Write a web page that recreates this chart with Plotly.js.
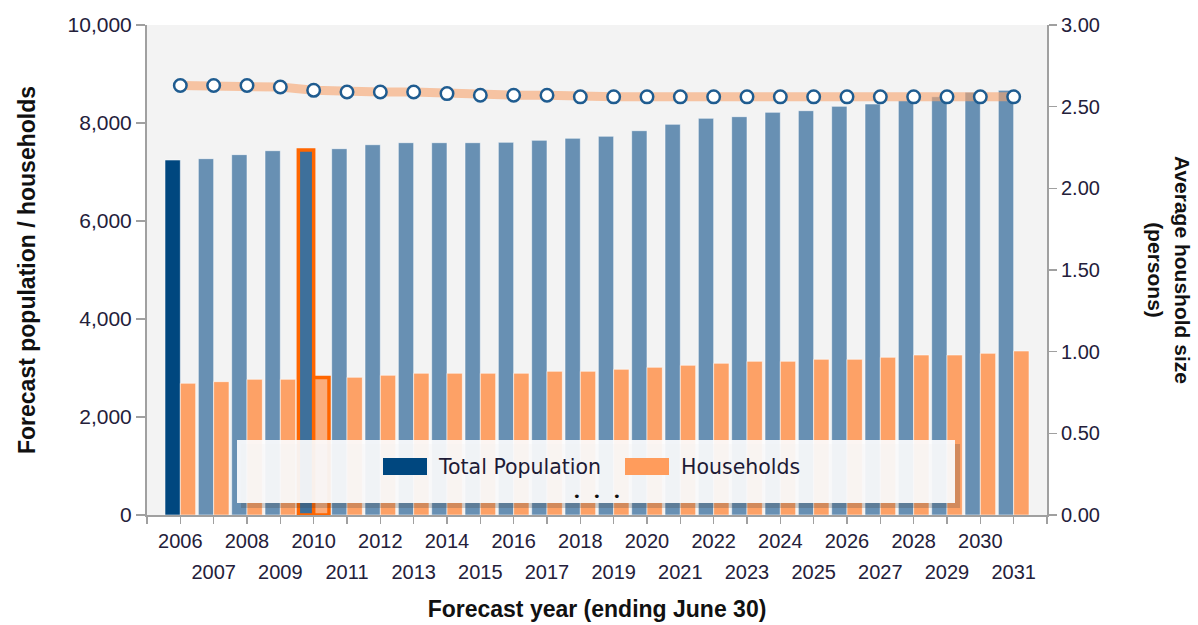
<!DOCTYPE html>
<html>
<head>
<meta charset="utf-8">
<script src="https://cdn.plot.ly/plotly-3.0.1.min.js"></script>
<style>
  html, body { margin: 0; padding: 0; background: #ffffff; }
  #chart { width: 1198px; height: 625px; }
</style>
</head>
<body>
<div id="chart"></div>
<script>
// Forecast years (ending June 30)
const years = [2006, 2007, 2008, 2009, 2010, 2011, 2012, 2013, 2014, 2015, 2016, 2017, 2018,
               2019, 2020, 2021, 2022, 2023, 2024, 2025, 2026, 2027, 2028, 2029, 2030, 2031];

// Total forecast population
const totalPopulation = [7245, 7272, 7354, 7435, 7450, 7476, 7557, 7598, 7598, 7598, 7606, 7647, 7688,
                         7729, 7843, 7973, 8096, 8129, 8218, 8251, 8340, 8388, 8455, 8537, 8626, 8667];

// Forecast number of households
const households = [2688, 2721, 2769, 2769, 2806, 2810, 2851, 2892, 2892, 2892, 2892, 2932, 2932,
                    2973, 3014, 3055, 3096, 3136, 3136, 3177, 3177, 3218, 3265, 3265, 3299, 3347];

// Average household size (persons)
const avgHouseholdSize = [2.63, 2.63, 2.63, 2.62, 2.60, 2.59, 2.59, 2.59, 2.58, 2.57, 2.57, 2.57, 2.56,
                          2.56, 2.56, 2.56, 2.56, 2.56, 2.56, 2.56, 2.56, 2.56, 2.56, 2.56, 2.56, 2.56];

const seriesNames = ['Total Population', 'Households'];

// Highlighted years: the first year is shown selected, 2010 hovered
const selectedYear = 2006;
const hoverYear = 2010;

const popFill = years.map(y => y === selectedYear ? '#00477f' : (y === hoverYear ? '#3e709b' : '#6890b3'));
const hhFill = years.map(y => y === hoverYear ? '#fbad7c' : '#fda166');
const outlineColor = years.map(y => y === hoverYear ? '#ff6600' : 'rgba(255,255,255,0.55)');
const outlineWidth = years.map(y => y === hoverYear ? 3.5 : 1);

const baseFamily = 'Liberation Sans, Arial, sans-serif';
const xTickFont = { family: baseFamily, size: 20, color: '#24203a' };
const leftTickFont = { family: baseFamily, size: 21, color: '#24203a' };
const rightTickFont = { family: baseFamily, size: 20, color: '#24203a' };
const titleFont = { family: baseFamily, size: 23, color: '#111111', weight: 'bold' };
const rightTitleFont = { family: baseFamily, size: 21, color: '#111111', weight: 'bold' };
const legendFont = { family: 'DejaVu Sans, Verdana, sans-serif', size: 20.5, color: '#1e1b36' };

// plot-area pixel -> paper fraction helpers (plot area is 900 x 490 px)
const L = 147, T = 25, W = 900, H = 490;
const px = x => (x - L) / W;
const py = y => (T + H - y) / H;

const evenYears = years.filter(y => y % 2 === 0);
const oddYears = years.filter(y => y % 2 === 1);
const tickPositions = [years[0] - 1].concat(years, [years[years.length - 1] + 1]);

const traces = [
  {
    type: 'bar', name: seriesNames[0], x: years, y: totalPopulation,
    marker: { color: popFill, line: { color: outlineColor, width: outlineWidth } },
    cliponaxis: false, showlegend: false, hoverinfo: 'x+y'
  },
  {
    type: 'bar', name: seriesNames[1], x: years, y: households,
    marker: { color: hhFill, line: { color: outlineColor, width: outlineWidth } },
    cliponaxis: false, showlegend: false, hoverinfo: 'x+y'
  },
  {
    type: 'scatter', mode: 'lines+markers', name: 'Average household size',
    x: years, y: avgHouseholdSize, yaxis: 'y2',
    line: { color: 'rgba(247,165,112,0.62)', width: 9 },
    marker: { symbol: 'circle', size: 12.5, color: '#ffffff', line: { color: '#1f5c90', width: 2.5 } },
    showlegend: false, cliponaxis: false
  },
  {
    // carrier for the second row of year labels
    type: 'scatter', x: [], y: [], xaxis: 'x3', yaxis: 'y', showlegend: false, hoverinfo: 'skip'
  }
];

const legendY = 467;
const annotations = [
  {
    text: 'Average houshold size<br>(persons)', textangle: 90,
    xref: 'paper', yref: 'paper', x: px(1169), y: py(270),
    xanchor: 'center', yanchor: 'middle', showarrow: false,
    font: rightTitleFont
  },
  {
    text: seriesNames[0], xref: 'paper', yref: 'paper', x: px(436), y: py(legendY),
    xanchor: 'left', yanchor: 'middle', showarrow: false, font: legendFont
  },
  {
    text: seriesNames[1], xref: 'paper', yref: 'paper', x: px(679), y: py(legendY),
    xanchor: 'left', yanchor: 'middle', showarrow: false, font: legendFont
  }
].concat([577, 597, 617].map(x => ({
  text: '•', xref: 'paper', yref: 'paper', x: px(x), y: py(496),
  xanchor: 'center', yanchor: 'middle', showarrow: false,
  font: { family: 'DejaVu Sans, sans-serif', size: 13, color: '#111111' }
})));

const shapes = [
  // legend panel shadow and panel
  { type: 'rect', xref: 'paper', yref: 'paper', layer: 'above',
    x0: px(241), x1: px(960), y0: py(508), y1: py(444),
    fillcolor: 'rgba(60,60,60,0.22)', line: { width: 0 } },
  { type: 'rect', xref: 'paper', yref: 'paper', layer: 'above',
    x0: px(237), x1: px(955), y0: py(503), y1: py(440),
    fillcolor: 'rgba(252,252,253,0.93)', line: { width: 0 } },
  // legend swatches
  { type: 'rect', xref: 'paper', yref: 'paper', layer: 'above',
    x0: px(383), x1: px(427), y0: py(475), y1: py(458),
    fillcolor: '#00477f', line: { width: 0 } },
  { type: 'rect', xref: 'paper', yref: 'paper', layer: 'above',
    x0: px(625), x1: px(669), y0: py(475), y1: py(458),
    fillcolor: '#ff9c5c', line: { width: 0 } }
];

const layout = {
  width: 1198, height: 625,
  margin: { l: L, r: 1198 - L - W, t: T, b: 625 - T - H, pad: 0 },
  paper_bgcolor: '#ffffff',
  plot_bgcolor: '#f3f3f3',
  barmode: 'group', bargap: 0.08, bargroupgap: 0,
  showlegend: false,
  font: xTickFont,
  xaxis: {
    range: [years[0] - 1, years[years.length - 1] + 1],
    tickmode: 'array', tickvals: tickPositions,
    ticktext: tickPositions.map(y => evenYears.includes(y) ? String(y) : ''),
    ticks: 'outside', ticklen: 7, tickwidth: 1.5, tickcolor: '#a0a0a0',
    showline: true, linecolor: '#a0a0a0', linewidth: 2,
    showgrid: false, zeroline: false, tickfont: xTickFont,
    title: { text: 'Forecast year (ending June 30)', font: titleFont, standoff: 50 },
    automargin: false
  },
  xaxis3: {
    overlaying: 'x', anchor: 'y', side: 'bottom',
    range: [years[0] - 1, years[years.length - 1] + 1],
    tickmode: 'array', tickvals: oddYears, ticktext: oddYears.map(String),
    ticks: '', ticklabelstandoff: 43, showline: false, showgrid: false, zeroline: false,
    tickfont: xTickFont, automargin: false
  },
  yaxis: {
    range: [0, 10000], tickmode: 'array', tickvals: [0, 2000, 4000, 6000, 8000, 10000],
    tickformat: ',d', ticks: 'outside', ticklen: 9, tickwidth: 1.5, tickcolor: '#a0a0a0',
    showline: true, linecolor: '#a0a0a0', linewidth: 2,
    showgrid: false, zeroline: false, tickfont: leftTickFont,
    title: { text: 'Forecast population / households', font: titleFont, standoff: 26 },
    automargin: false
  },
  yaxis2: {
    overlaying: 'y', side: 'right', anchor: 'x',
    range: [0, 3], tickmode: 'array', tickvals: [0, 0.5, 1, 1.5, 2, 2.5, 3],
    tickformat: '.2f', ticks: 'outside', ticklen: 8, tickwidth: 1.5, tickcolor: '#a0a0a0',
    showline: true, linecolor: '#a0a0a0', linewidth: 2,
    showgrid: false, zeroline: false, tickfont: rightTickFont, automargin: false
  },
  shapes: shapes,
  annotations: annotations
};

Plotly.newPlot('chart', traces, layout, { displayModeBar: false, responsive: false, staticPlot: true });
</script>
</body>
</html>
